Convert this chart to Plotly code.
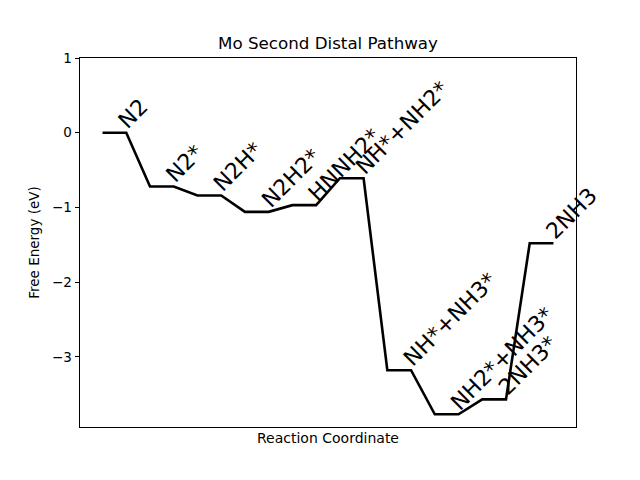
import plotly.graph_objects as go

states = ["N2", "N2*", "N2H*", "N2H2*", "HNNH2*", "NH*+NH2*",
          "NH*+NH3*", "NH2*+NH3*", "2NH3*", "2NH3"]
energies = [0.0, -0.72, -0.84, -1.06, -0.97, -0.61, -3.18, -3.77, -3.57, -1.48]

xs, ys = [], []
for i, e in enumerate(energies):
    xs += [2 * i, 2 * i + 1]
    ys += [e, e]

font = "DejaVu Sans, Liberation Sans, sans-serif"
fig = go.Figure()
fig.add_trace(go.Scatter(x=xs, y=ys, mode="lines",
                         line=dict(color="black", width=2.6), showlegend=False,
                         hoverinfo="skip"))

for i, (s, e) in enumerate(zip(states, energies)):
    fig.add_annotation(x=2 * i + 0.5, y=e, text=s, showarrow=False,
                       textangle=-45, xanchor="left", yanchor="bottom",
                       xshift=-2, yshift=-2,
                       font=dict(family=font, size=22, color="black"),
                       borderpad=0)

fig.update_layout(
    width=640, height=480,
    margin=dict(l=80, r=64, t=58, b=53),
    paper_bgcolor="white", plot_bgcolor="white",
    font=dict(family=font, size=13, color="black"),
    title=dict(text="Mo Second Distal Pathway", x=0.5, xanchor="center",
               xref="paper", y=1 - 43 / 480, yanchor="middle",
               font=dict(family=font, size=16.7, color="black")),
)
fig.update_xaxes(range=[-0.95, 19.95], showticklabels=False, ticks="",
                 showgrid=False, zeroline=False, showline=True, linecolor="black",
                 linewidth=1, mirror=True,
                 title=dict(text="Reaction Coordinate", standoff=6,
                            font=dict(family=font, size=14, color="black")))
fig.update_yaxes(range=[-3.94, 1.0], tickvals=[1, 0, -1, -2, -3],
                 ticktext=["1", "0", "\u22121", "\u22122", "\u22123"],
                 ticks="outside", ticklen=4.5, tickwidth=1, tickcolor="black",
                 showgrid=False, zeroline=False, showline=True, linecolor="black",
                 linewidth=1, mirror=True,
                 title=dict(text="Free Energy (eV)", standoff=9,
                            font=dict(family=font, size=13.5, color="black")),
                 tickfont=dict(family=font, size=13.5, color="black"))

fig.write_html("out.html")
